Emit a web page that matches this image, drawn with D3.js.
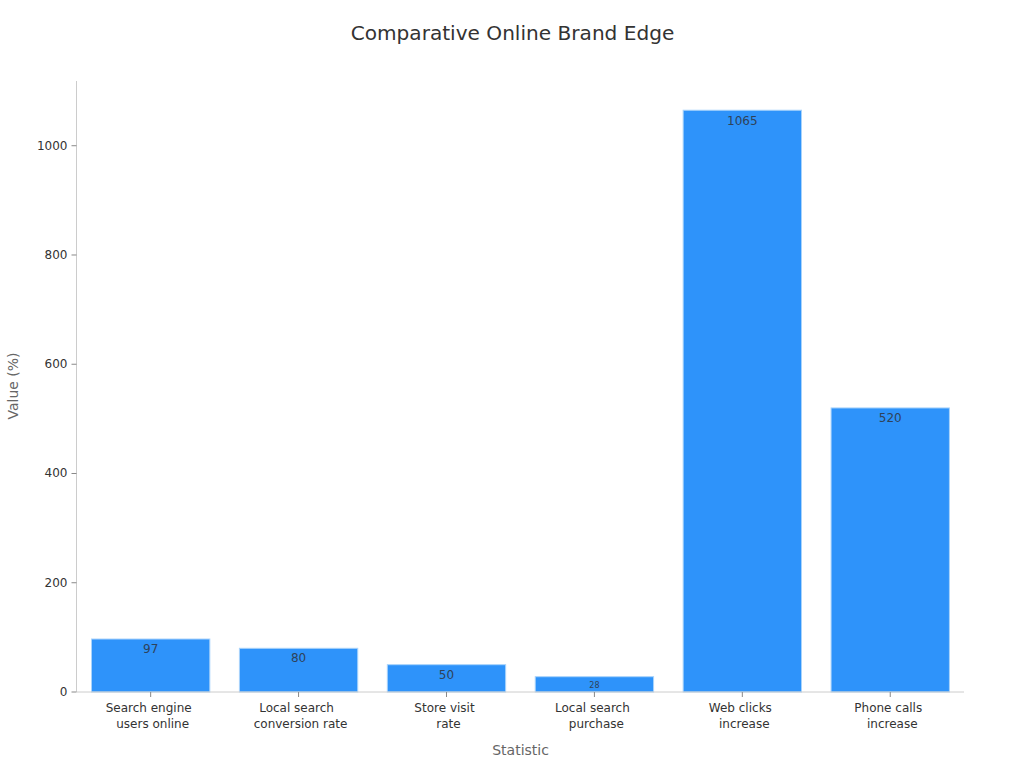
<!DOCTYPE html>
<html><head><meta charset="utf-8">
<script src="https://cdn.jsdelivr.net/npm/d3@7/dist/d3.min.js"></script>
<style>html,body{margin:0;padding:0;background:#fff}svg{display:block}text{font-family:"DejaVu Sans",sans-serif}</style>
</head><body><svg id="c" width="1024" height="768"></svg>
<script>
const categories = [["Search engine","users online"],["Local search","conversion rate"],["Store visit","rate"],["Local search","purchase"],["Web clicks","increase"],["Phone calls","increase"]];
const values = [97,80,50,28,1065,520];
const yTicks = [0,200,400,600,800,1000];
const title = "Comparative Online Brand Edge";
const xTitle = "Statistic";
const yTitle = "Value (%)";

const svg = d3.select("#c");
const L=76.5,R=964,T=81,B=692;
const x = d3.scaleBand().domain(d3.range(categories.length)).range([L+0.2,R+0.2]).paddingInner(0.2).paddingOuter(0.1);
const y = d3.scaleLinear().domain([0,1118.5]).range([B,T]);

svg.append("text").attr("x",512.5).attr("y",40).attr("text-anchor","middle").attr("font-size",20.1).attr("fill","#333").text(title);

svg.append("g").selectAll("rect").data(values).join("rect")
  .attr("x",(d,i)=>x(i)).attr("width",x.bandwidth())
  .attr("y",d=>y(d)).attr("height",d=>B-y(d))
  .attr("fill","#2e93fa").attr("stroke","#a9d3fb").attr("stroke-width",1);

svg.append("g").selectAll("text").data(values).join("text")
  .attr("x",(d,i)=>x(i)+x.bandwidth()/2)
  .attr("y",d=>d<30?y(d)+11:(d>1000?y(d)+15:y(d)+14))
  .attr("text-anchor","middle")
  .attr("font-size",d=>d<30?8:12)
  .attr("fill","#2f4259").text(d=>d);

const yAxis = d3.axisLeft(y).tickValues(yTicks).tickSize(5).tickPadding(4).offset(0).tickFormat(d3.format("d"));
const gy = svg.append("g").attr("transform",`translate(${L},0)`).call(yAxis);
gy.select(".domain").attr("stroke","#ccc").attr("d",`M0,${T}V${B}`);
gy.selectAll(".tick line").attr("stroke","#888");
gy.selectAll(".tick text").attr("font-size",12).attr("fill","#333").attr("font-family","DejaVu Sans");

const xAxis = d3.axisBottom(x).tickSize(5).tickFormat("");
const gx = svg.append("g").attr("transform",`translate(0,${B})`).call(xAxis);
gx.select(".domain").attr("stroke","#ccc").attr("d",`M${L},0H${R}`);
gx.selectAll(".tick line").attr("stroke","#888");

const lab = svg.append("g").selectAll("text").data(categories).join("text")
  .attr("text-anchor","middle").attr("font-size",12).attr("fill","#333");
lab.append("tspan").attr("x",(d,i)=>x(i)+x.bandwidth()/2-2).attr("y",B+20).text(d=>d[0]);
lab.append("tspan").attr("x",(d,i)=>x(i)+x.bandwidth()/2+2).attr("y",B+36).text(d=>d[1]);

svg.append("text").attr("x",520.6).attr("y",755).attr("text-anchor","middle").attr("font-size",14).attr("fill","#666").text(xTitle);
svg.append("text").attr("transform","translate(17.5,386) rotate(-90)").attr("text-anchor","middle").attr("font-size",14).attr("fill","#666").text(yTitle);
</script></body></html>
